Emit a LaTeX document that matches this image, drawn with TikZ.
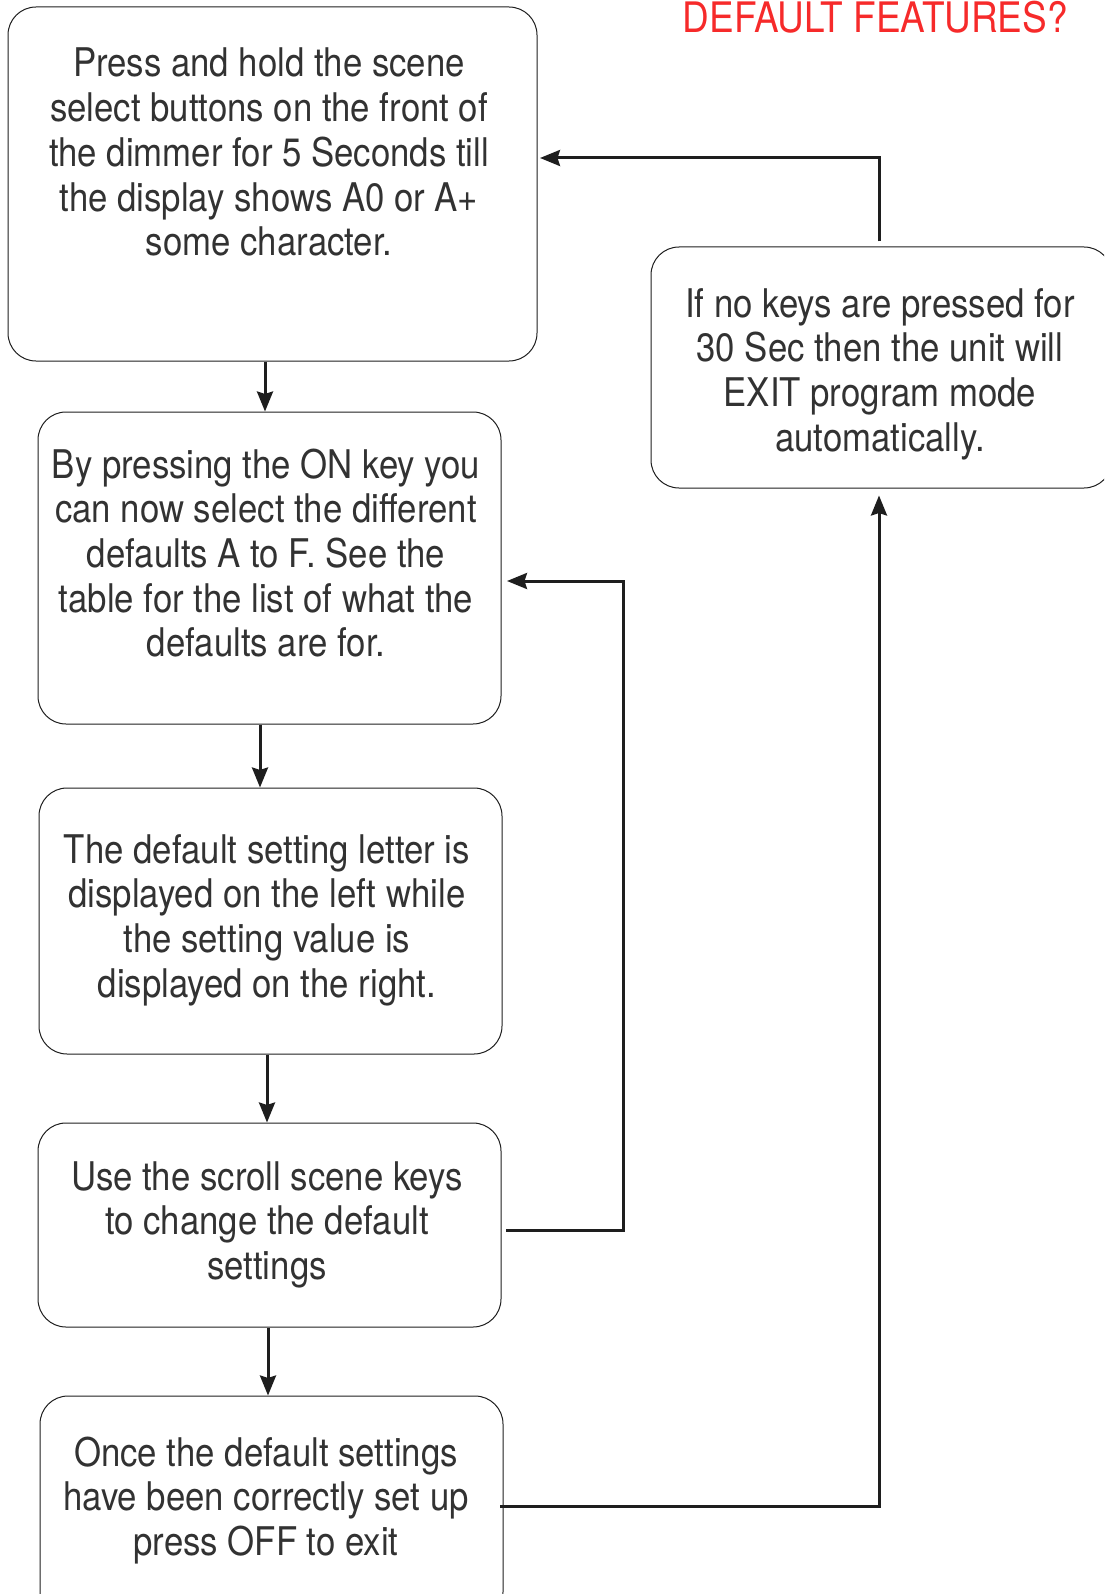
\documentclass[tikz,border=0pt]{standalone}
\usepackage{fontspec}
\setmainfont[FakeStretch=0.88]{TeX Gyre Heros}
\usetikzlibrary{arrows.meta}
\definecolor{titlered}{RGB}{246,42,42}
\definecolor{ink}{RGB}{30,30,30}
\definecolor{textink}{RGB}{50,50,50}
\begin{document}
\begin{tikzpicture}[x=1pt,y=-1pt,
  box/.style={draw=ink,line width=1pt,rounded corners=28pt,inner sep=0pt,anchor=center},
  % anchor=base sits on the last line of a multi-line node
  txt/.style={align=center,anchor=base,text=textink,inner sep=0pt,
    font=\fontsize{39.5}{44.7}\selectfont},
  arr/.style={draw=ink,line width=3pt,-{Stealth[length=20pt,width=16pt,inset=2.5pt]}}]
\useasboundingbox (0,0) rectangle (1104,1594);
\clip (0,0) rectangle (1104,1594);

% title
\node[anchor=base east,text=titlered,inner sep=0pt,
  font=\fontsize{42}{50}\selectfont] (title) at (1068,33) {DEFAULT FEATURES?};

% process boxes
\node[box,minimum width=529pt,minimum height=354pt] (b1) at (272.5,184) {};
\node[box,minimum width=463pt,minimum height=312pt] (b2) at (269.5,568) {};
\node[box,minimum width=463pt,minimum height=266pt] (b3) at (270.5,921) {};
\node[box,minimum width=463pt,minimum height=204pt] (b4) at (269.5,1225) {};
\node[box,minimum width=463pt,minimum height=224pt] (b5) at (271.5,1508) {};
\node[box,minimum width=461pt,minimum height=241pt] (r) at (881.5,367.5) {};

% box texts
\node[txt] (t1) at (269,255.8) {Press and hold the scene\\select buttons on the front of\\the dimmer for 5 Seconds till\\the display shows A0 or A+\\some character.};
\node[txt] (t2) at (266,656.8) {By pressing the ON key you\\can now select the different\\defaults A to F. See the\\table for the list of what the\\defaults are for.};
\node[txt] (t3) at (267,997.1) {The default setting letter is\\displayed on the left while\\the setting value is\\displayed on the right.};
\node[txt] (t4) at (267,1279.4) {Use the scroll scene keys\\to change the default\\settings};
\node[txt] (t5) at (266,1555.4) {Once the default settings\\have been correctly set up\\press OFF to exit};
\node[txt] (tr) at (880,451.1) {If no keys are pressed for\\30 Sec then the unit will\\EXIT program mode\\automatically.};

% main flow
\draw[arr] ([xshift=-7.5pt]b1.south) -- ([xshift=-7.5pt]b1.south |- b2.north);
\draw[arr] ([xshift=-9.5pt]b2.south) -- ([xshift=-9.5pt]b2.south |- b3.north);
\draw[arr] ([xshift=-3.5pt]b3.south) -- ([xshift=-3.5pt]b3.south |- b4.north);
\draw[arr] ([xshift=-1.5pt]b4.south) -- ([xshift=-1.5pt]b4.south |- b5.north);

% loop back to defaults selection
\coordinate (l4) at (506,1230);
\coordinate (l2) at (507,581);
\draw[arr] (l4) -| (623,581) -- (l2);

% exit path to the timeout note
\coordinate (l5) at (500,1506);
\draw[arr] (l5) -| ([xshift=-2.5pt,yshift=-7pt]r.south);

% timeout note back to the start
\coordinate (l1) at (540,158);
\draw[arr] ([xshift=-2.5pt,yshift=5pt]r.north) |- (l1);
\end{tikzpicture}
\end{document}
